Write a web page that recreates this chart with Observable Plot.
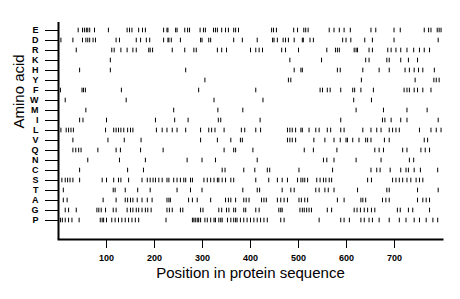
<!DOCTYPE html>
<html>
<head>
<meta charset="utf-8">
<script src="https://cdn.jsdelivr.net/npm/d3@7"></script>
<script src="https://cdn.jsdelivr.net/npm/@observablehq/plot@0.6"></script>
<style>
  html, body { margin: 0; padding: 0; background: #fff; }
</style>
</head>
<body>
<div id="chart"></div>
<script>
// Amino-acid categories (top to bottom)
const aminoAcids = ["E","D","R","K","H","Y","F","W","M","I","L","V","Q","N","C","S","T","A","G","P"];
const xTicks = [100, 200, 300, 400, 500, 600, 700];

// Positions in protein sequence of each amino acid
const posE = [41,50,54,58,61,65,75,104,143,148,153,167,175,181,219,226,228,244,247,263,269,273,295,302,306,323,327,331,340,348,354,365,369,375,444,448,454,490,498,511,515,520,564,574,585,595,608,651,661,699,712,762,771,776,789,793,797];
const posD = [5,30,50,57,61,65,72,77,120,127,162,171,183,190,219,228,230,235,254,296,299,313,317,365,383,414,446,449,456,468,473,479,491,508,510,524,531,592,599,609,638,654,699,791];
const posR = [37,111,116,130,143,155,162,188,191,196,237,263,282,287,331,340,350,400,411,418,425,465,473,500,559,577,581,585,616,620,623,647,654,686,693,703,713,726,740,752,762,773];
const posK = [108,482,548,640,647,684,689,713,729,748];
const posH = [44,108,265,491,505,508,581,587,634,668,689,722,731,741,750,759,783];
const posY = [305,479,484,631,743,782,787,793];
const posF = [4,49,52,56,131,292,411,545,550,560,566,588,613,617,630,656,720,726,731,741,748,759,776];
const posW = [14,141,324,426,615,652];
const posM = [57,240,332,384,620,677,726,768];
const posI = [44,51,100,202,242,270,333,338,420,588,675,680,693,713,726,791];
const posL = [5,16,21,26,31,98,115,120,125,130,136,144,150,155,204,216,226,237,247,265,296,313,319,326,345,381,388,411,421,477,482,487,494,505,508,522,536,543,560,567,588,595,634,651,663,672,689,696,703,710,752,776,787,797];
const posV = [30,103,137,172,296,331,359,379,383,477,482,487,494,532,555,574,587,599,602,613,626,640,644,651,679,689,762,769];
const posQ = [30,36,42,47,82,120,129,171,218,345,365,369,405,512,531,580,659,668,677,717,726,755,764,773];
const posN = [61,127,181,268,299,327,414,552,559,574,620,672,731,740];
const posC = [44,144,177,341,347,386,409,435,440,501,571,651,663,670,691,713,724,729,741,754,790];
const posS = [7,14,19,24,30,44,91,100,115,125,130,146,174,185,191,197,202,209,216,226,230,240,247,254,261,265,275,279,303,310,317,324,331,334,341,348,359,365,411,438,456,466,477,498,505,509,513,519,538,545,552,557,564,569,644,652,696,703,710,717,726,734,745,752,759];
const posT = [10,114,118,139,165,191,247,275,299,384,414,419,466,484,491,536,543,555,562,574,623,684,689,748,791];
const posA = [10,18,93,120,139,144,150,155,164,174,185,195,226,230,233,271,279,289,317,348,354,359,369,386,391,397,423,428,433,456,463,470,477,501,506,513,519,581,595,630,634,640,675,682,689,748,759,766,773];
const posG = [14,21,37,80,84,89,98,114,120,143,150,155,162,167,174,181,186,193,226,231,237,254,259,296,301,334,340,350,355,365,369,386,390,411,418,459,463,466,503,508,512,517,522,527,560,569,616,622,629,637,644,652,659,706,712,729,738,773];
const posP = [4,8,14,21,28,43,87,91,94,100,111,118,125,132,139,146,153,160,167,224,279,282,285,289,292,296,305,310,317,324,327,334,338,341,352,359,365,369,372,379,386,393,400,407,414,421,428,435,463,470,543,588,595,606,630,637,647,654,668,689,710,724,741,752,766,780,790];

const positions = {E: posE, D: posD, R: posR, K: posK, H: posH, Y: posY, F: posF, W: posW, M: posM, I: posI,
  L: posL, V: posV, Q: posQ, N: posN, C: posC, S: posS, T: posT, A: posA, G: posG, P: posP};

const data = aminoAcids.flatMap(aa => positions[aa].map(pos => ({aa, pos})));

const font = "'Liberation Sans', Arial, Helvetica, sans-serif";

const chart = Plot.plot({
  width: 460,
  height: 299,
  marginLeft: 58,
  marginRight: 18,
  marginTop: 11,
  marginBottom: 60,
  style: {fontFamily: font, fontSize: "9px", background: "#fff", color: "#000"},
  x: {domain: [0, 800]},
  y: {type: "band", domain: aminoAcids, paddingInner: 0, paddingOuter: 0.5},
  marks: [
    Plot.tickX(data, {x: "pos", y: "aa", stroke: "#000", strokeWidth: 1, insetTop: 2.7, insetBottom: 2.7}),
    Plot.axisY({tickSize: 13, tickPadding: 7, fontSize: 9, fontWeight: 600, label: null}),
    Plot.axisX({ticks: xTicks, tickSize: 9, tickPadding: 6, fontSize: 9, fontWeight: "bold", label: null}),
    Plot.ruleX([0], {stroke: "#000", strokeWidth: 2, insetTop: 11}),
    Plot.frame({anchor: "bottom", stroke: "#000", strokeWidth: 2}),
    Plot.text(["Position in protein sequence"], {frameAnchor: "bottom", dy: 38.5, fontSize: 15, fill: "#000"}),
    Plot.text(["Amino acid"], {frameAnchor: "left", rotate: -90, dx: -39, dy: 3, fontSize: 15, fill: "#000"})
  ]
});
document.getElementById("chart").appendChild(chart);
</script>
</body>
</html>
